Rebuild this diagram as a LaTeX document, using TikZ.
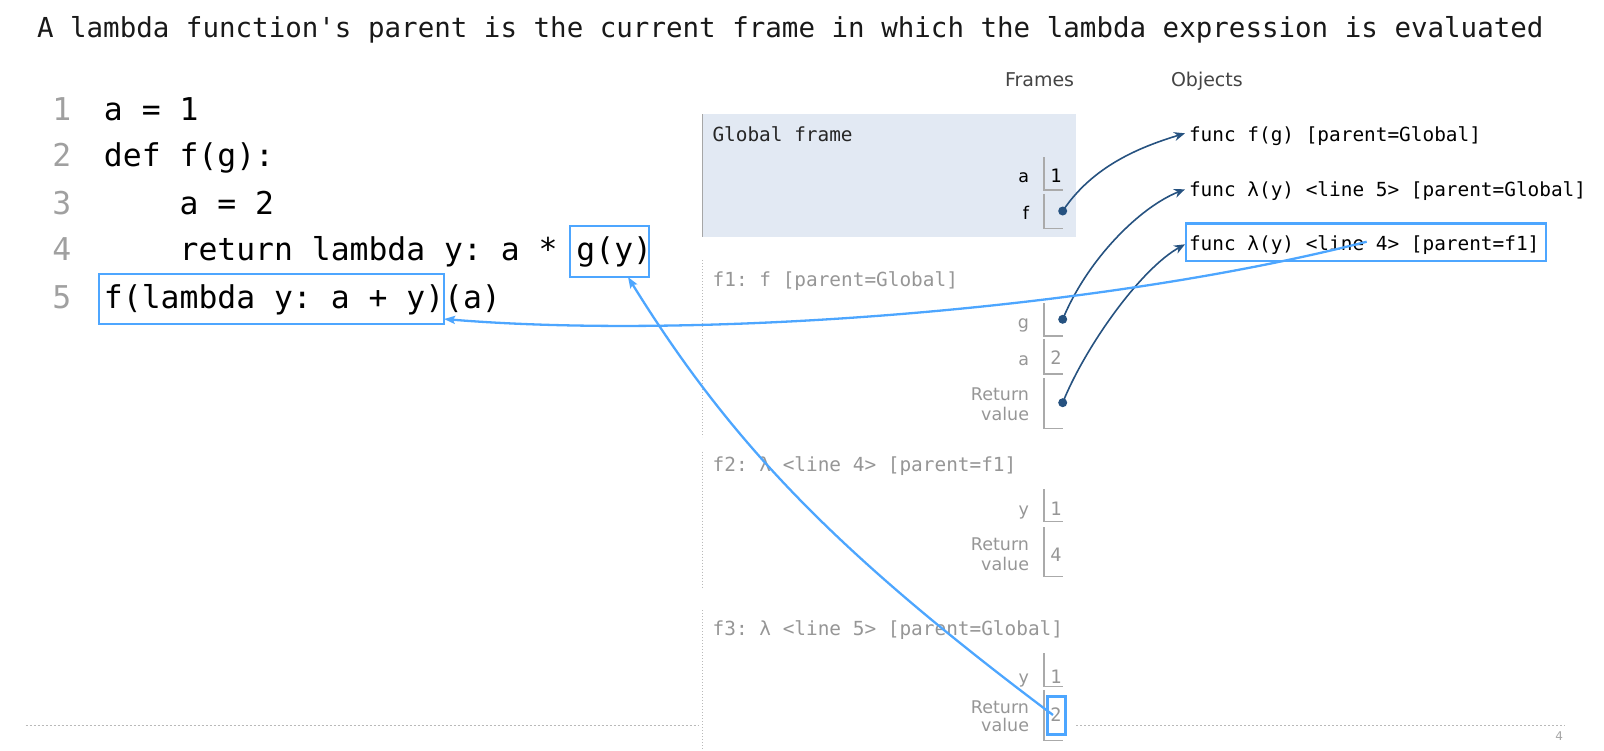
\documentclass[tikz,border=0pt]{standalone}
\usepackage{fontspec}
\setmonofont{DejaVu Sans Mono}
\setsansfont{DejaVu Sans}
\newfontfamily\codefont{DejaVu Sans Mono}
\usetikzlibrary{arrows.meta}
\makeatletter
\newcommand\codecells[1]{\code@loop#1\@nil}
\def\code@loop#1{\ifx#1\@nil\else\makebox[18.9pt][c]{#1}\expandafter\code@loop\fi}
\makeatother
\definecolor{lblue}{RGB}{77,166,255}
\definecolor{dblue}{RGB}{38,82,128}
\definecolor{gfill}{RGB}{226,233,243}
\definecolor{cellgray}{RGB}{170,170,170}
\definecolor{txtgray}{RGB}{150,150,150}
\definecolor{lnum}{RGB}{160,160,160}
\definecolor{hdr}{RGB}{68,68,68}
\definecolor{dotgray}{RGB}{185,185,185}
\begin{document}
\frenchspacing
\begin{tikzpicture}[x=1pt,y=-1pt,
  txt/.style={inner sep=0pt,outer sep=0pt,anchor=base west},
  codetxt/.style={txt,font=\codefont\fontsize{31.4}{36}\selectfont},
  lnumtxt/.style={codetxt,text=lnum},
  titletxt/.style={txt,font=\ttfamily\fontsize{27.5}{32}\selectfont,text=black!90},
  ftitle/.style={txt,font=\ttfamily\fontsize{19.4}{23}\selectfont},
  hdrtxt/.style={txt,font=\sffamily\fontsize{19}{23}\selectfont,text=hdr},
  varlbl/.style={inner sep=0pt,outer sep=0pt,anchor=base east,font=\sffamily\fontsize{17.5}{21}\selectfont},
  valtxt/.style={inner sep=0pt,outer sep=0pt,anchor=base,font=\ttfamily\fontsize{18.5}{22}\selectfont},
  hlbox/.style={draw=lblue,line width=2.5pt,inner sep=0pt,outer sep=0pt,rectangle},
  cellline/.style={draw=cellgray,line width=1.3pt},
  ptrdot/.style={circle,fill=dblue,inner sep=0pt,outer sep=0pt,minimum size=9pt},
  ptr/.style={draw=dblue,line width=1.6pt,-{Stealth[length=11pt,width=9pt]}},
  retarrow/.style={draw=lblue,line width=2.3pt,-{Stealth[length=11pt,width=8pt,inset=2pt]}},
  vdots/.style={draw=dotgray,line width=1pt,dash pattern=on 1pt off 2pt},
  hdots/.style={draw=dotgray,line width=1pt,dash pattern=on 2pt off 2pt},
]
\useasboundingbox (0,0) rectangle (1604,750);

% title
\node[titletxt] (title) at (37,37.3) {A lambda function's parent is the current frame in which the lambda expression is evaluated};

% code
\node[lnumtxt] (n1) at (52.5,120) {\codecells{1}};
\node[lnumtxt] (n2) at (52.5,166.7) {\codecells{2}};
\node[lnumtxt] (n3) at (52.5,214.3) {\codecells{3}};
\node[lnumtxt] (n4) at (52.5,260.7) {\codecells{4}};
\node[lnumtxt] (n5) at (52.5,308.3) {\codecells{5}};
\node[codetxt] (l1) at (104,120) {\codecells{a~=~1}};
\node[codetxt] (l2) at (104,166.7) {\codecells{def~f(g):}};
\node[codetxt] (l3) at (179.6,214.3) {\codecells{a~=~2}};
\node[codetxt] (l4) at (179.6,260.7) {\codecells{return~lambda~y:~a~*~g(y)}};
\node[codetxt] (l5) at (104,308.3) {\codecells{f(lambda~y:~a~+~y)(a)}};
\node[hlbox,minimum width=345pt,minimum height=50pt] (fbox) at (271.5,299) {};
\node[hlbox,minimum width=79pt,minimum height=51pt] (gbox) at (609.5,251.5) {};

% headers
\node[hdrtxt] (hframes) at (1005,86.7) {Frames};
\node[hdrtxt] (hobjects) at (1171,86.7) {Objects};

% global frame
\fill[gfill] (702,114) rectangle (1076,237);
\draw[draw=black!35,line width=1.5pt] (702.7,114) -- (702.7,237);
\node[ftitle,text=black!85] (gtitle) at (712.5,141) {Global frame};
\node[varlbl] (ga) at (1029,182.3) {a};
\node[valtxt] (gav) at (1056,182.3) {1};
\draw[cellline] (1044,157.3) -- (1044,190) -- (1063,190);
\node[varlbl] (gf) at (1029,219.3) {f};
\draw[cellline] (1044,194.3) -- (1044,228.3) -- (1063,228.3);
\node[ptrdot] (dotf) at (1062.7,211) {};

% f1
\draw[vdots] (702.7,260) -- (702.7,437);
\node[ftitle,text=txtgray] (f1title) at (712.7,286.7) {f1: f [parent=Global]};
\node[varlbl,text=txtgray] (f1g) at (1029,328) {g};
\draw[cellline] (1044,303.3) -- (1044,336) -- (1063,336);
\node[ptrdot] (dotg) at (1062.7,319.3) {};
\node[varlbl,text=txtgray] (f1a) at (1029,365) {a};
\node[valtxt,text=txtgray] (f1av) at (1056,364.5) {2};
\draw[cellline] (1044,339.3) -- (1044,374) -- (1063,374);
\node[varlbl,text=txtgray] (f1r1) at (1029,400) {Return};
\node[varlbl,text=txtgray] (f1r2) at (1029,420.7) {value};
\draw[cellline] (1044,378.3) -- (1044,428.3) -- (1063,428.3);
\node[ptrdot] (dotr) at (1062.7,402.7) {};

% f2
\draw[vdots] (702.7,451.7) -- (702.7,587);
\node[ftitle,text=txtgray] (f2title) at (712.7,471.7) {f2: λ <line 4> [parent=f1]};
\node[varlbl,text=txtgray] (f2y) at (1029,515.5) {y};
\node[valtxt,text=txtgray] (f2yv) at (1056,515) {1};
\draw[cellline] (1044,489.3) -- (1044,521.7) -- (1063,521.7);
\node[varlbl,text=txtgray] (f2r1) at (1029,550) {Return};
\node[varlbl,text=txtgray] (f2r2) at (1029,570) {value};
\node[valtxt,text=txtgray] (f2rv) at (1056,561.7) {4};
\draw[cellline] (1044,527.3) -- (1044,576.7) -- (1063,576.7);

% f3
\draw[vdots] (702.7,610) -- (702.7,750);
\node[ftitle,text=txtgray] (f3title) at (712.7,635) {f3: λ <line 5> [parent=Global]};
\node[varlbl,text=txtgray] (f3y) at (1029,683) {y};
\node[valtxt,text=txtgray] (f3yv) at (1056,683) {1};
\draw[cellline] (1044,653.3) -- (1044,686.7) -- (1063,686.7);
\node[varlbl,text=txtgray] (f3r1) at (1029,713.3) {Return};
\node[varlbl,text=txtgray] (f3r2) at (1029,731.7) {value};
\node[valtxt,text=txtgray] (f3rv) at (1056,721.7) {2};
\draw[cellline] (1044,690) -- (1044,740.7) -- (1063,740.7);
\node[hlbox,minimum width=18pt,minimum height=37.6pt] (twobox) at (1056.7,715.5) {};

% bottom rule and page number
\draw[hdots] (25.6,725) -- (698,725);
\draw[hdots] (1076,725) -- (1565,725);
\node[inner sep=0pt,outer sep=0pt,anchor=base east,font=\sffamily\fontsize{12}{14}\selectfont,text=black!35] (pnum) at (1563,740) {4};

% objects
\node[ftitle,text=black] (obj1) at (1189,141.7) {func f(g) [parent=Global]};
\node[ftitle,text=black] (obj2) at (1189,196.7) {func λ(y) <line 5> [parent=Global]};
\node[ftitle,text=black] (obj3) at (1189,250.7) {func λ(y) <line 4> [parent=f1]};
\node[hlbox,minimum width=360pt,minimum height=37.7pt] (objbox) at (1366,242.2) {};

% pointers
\draw[ptr] (dotf.center) .. controls (1092.7,166) and (1140,147) .. ([xshift=-4pt,yshift=8.4pt]obj1.base west);
\draw[ptr] (dotg.center) .. controls (1087.7,259) and (1140,207) .. ([xshift=-4pt,yshift=7.4pt]obj2.base west);
\draw[ptr] (dotr.center) .. controls (1084.7,347.7) and (1140,269.3) .. ([xshift=-4pt,yshift=6.4pt]obj3.base west);

% return arrows
\coordinate (objsrc) at (1366.7,241.7);
\coordinate (twosrc) at (1053,715);
\draw[retarrow] (objsrc) .. controls (1100,310) and (700,340) .. ([yshift=5pt]fbox.south east);
\draw[retarrow] (twosrc) .. controls (838.5,554) and (732,445) .. ([xshift=18.5pt]gbox.south);
\end{tikzpicture}
\end{document}
